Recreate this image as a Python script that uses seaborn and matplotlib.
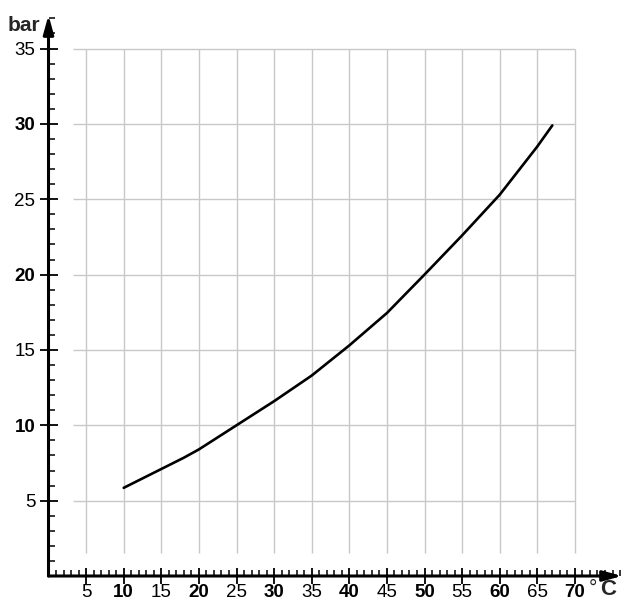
import matplotlib
matplotlib.use("Agg")
import matplotlib.pyplot as plt
import seaborn as sns
import pandas as pd
from matplotlib.ticker import MultipleLocator

# data
temp_c = [10, 15, 18, 20, 25, 30, 35, 40, 45, 50, 55, 60, 65, 67]
pressure_bar = [5.85, 7.1, 7.85, 8.4, 10.0, 11.6, 13.3, 15.3, 17.45, 20.0, 22.6, 25.3, 28.5, 29.9]
x_ticks = [5, 10, 15, 20, 25, 30, 35, 40, 45, 50, 55, 60, 65, 70]
y_ticks = [5, 10, 15, 20, 25, 30, 35]

sns.set_style("white")
plt.rcParams['font.family'] = ['Liberation Sans', 'DejaVu Sans']

df = pd.DataFrame({"temp": temp_c, "pressure": pressure_bar})

fig = plt.figure(figsize=(6.24, 6.0), dpi=100)
ax = fig.add_axes([48.5 / 624, 24 / 600, (622 - 48.5) / 624, (576 - 15) / 600])
ax.set_xlim(0, (622 - 48.5) / 7.52)
ax.set_ylim(0, (576 - 15) / 15.07)

grid_c = "#c8c8c8"
ax.vlines(x_ticks, 1.5, max(y_ticks), color=grid_c, lw=1.0, zorder=1)
ax.hlines(y_ticks, 3.3, max(x_ticks), color=grid_c, lw=1.0, zorder=1)

sns.lineplot(data=df, x="temp", y="pressure", color="black", lw=1.9, ax=ax, zorder=3)

for s in ax.spines.values():
    s.set_visible(False)

# axes with arrows
arrow_style = '-|>,head_length=0.8,head_width=0.22'
ax.annotate('', xy=(1.0, 0), xytext=(0, 0), xycoords='axes fraction',
            arrowprops=dict(arrowstyle=arrow_style, color='black', lw=2.2,
                            mutation_scale=14, shrinkA=0, shrinkB=0),
            annotation_clip=False, zorder=5)
ax.annotate('', xy=(0, 1.0), xytext=(0, 0), xycoords='axes fraction',
            arrowprops=dict(arrowstyle=arrow_style, color='black', lw=2.2,
                            mutation_scale=14, shrinkA=0, shrinkB=0),
            annotation_clip=False, zorder=5)

ax.set_xticks(x_ticks)
ax.set_yticks(y_ticks)
ax.xaxis.set_minor_locator(MultipleLocator(1))
ax.yaxis.set_minor_locator(MultipleLocator(1))
ax.set_xticklabels([str(v) for v in x_ticks])
ax.set_yticklabels([str(v) for v in y_ticks])
ax.tick_params(axis='x', which='major', direction='inout', length=11, width=1.3,
               pad=0, labelsize=13.5, bottom=True, colors='black')
ax.tick_params(axis='y', which='major', direction='inout', length=13, width=1.3,
               pad=3, labelsize=13.5, left=True, colors='black')
ax.tick_params(axis='both', which='minor', direction='in', length=4, width=1.1,
               bottom=True, left=True, colors='black')

for lbl, v in zip(ax.get_xticklabels(), x_ticks):
    lbl.set_fontweight('bold' if v % 10 == 0 else 'normal')
for lbl, v in zip(ax.get_yticklabels(), y_ticks):
    lbl.set_fontweight('bold' if v % 10 == 0 else 'normal')

ax.set_xlabel('')
ax.set_ylabel('')

fig.text(40 / 624, 1 - 31 / 600, 'bar', ha='right', va='baseline',
         fontsize=15, fontweight='bold')
fig.text(589 / 624, 1 - 594 / 600, '°', ha='left', va='baseline', fontsize=15)
fig.text(600 / 624, 1 - 595 / 600, 'C', ha='left', va='baseline',
         fontsize=16, fontweight='bold')

fig.savefig('out.png', dpi=100)
